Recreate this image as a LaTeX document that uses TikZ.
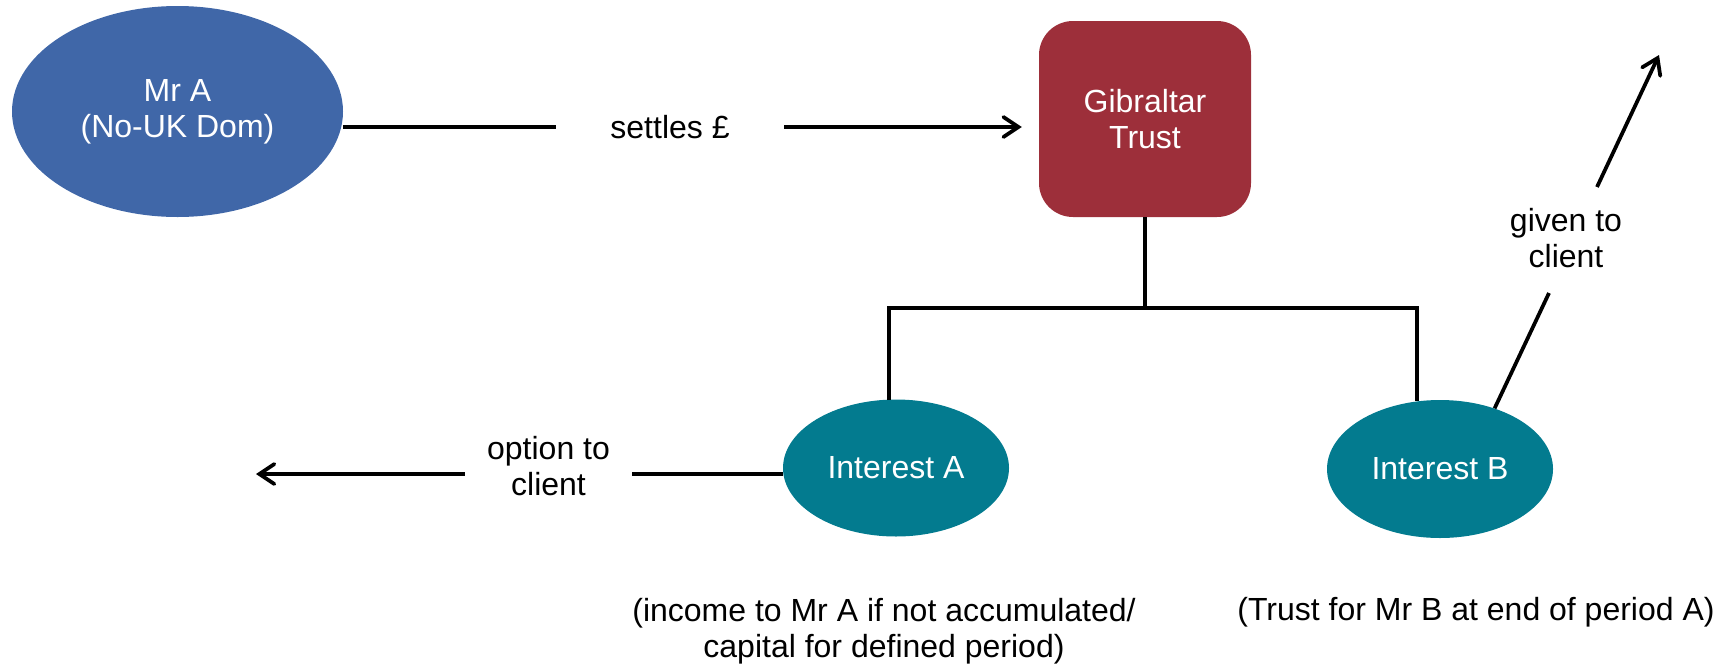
\documentclass[tikz,border=0pt]{standalone}
\usepackage{fontspec}
\setmainfont{Liberation Sans}
\usetikzlibrary{shapes.geometric,arrows.meta}
\definecolor{mrblue}{HTML}{4067A8}
\definecolor{trustred}{HTML}{9D2F3A}
\definecolor{teal}{HTML}{037B8F}
\begin{document}
\begin{tikzpicture}[x=1pt,y=-1pt,
  every node/.style={font=\fontsize{32}{36}\selectfont, align=center, inner sep=0pt},
  oval/.style={ellipse, text=white},
  trustbox/.style={rectangle, rounded corners=34pt, fill=trustred, text=white,
     minimum width=212pt, minimum height=196pt},
  gaplabel/.style={text=black},
  conn/.style={line width=3.75pt, black},
  arr/.style={conn, -{Straight Barb[length=15pt,width=20pt,line width=3.75pt,line cap=round]}}
]
\path[use as bounding box] (0,0) rectangle (1734,670);

% nodes
\node[oval, fill=mrblue, minimum width=331pt, minimum height=211pt] (mra) at (177.5,111.5) {Mr A\\(No-UK Dom)};
\node[trustbox] (trust) at (1145,119) {Gibraltar\\Trust};
\node[oval, fill=teal, minimum width=226pt, minimum height=137pt] (ia) at (896,468) {Interest A};
\node[oval, fill=teal, minimum width=226pt, minimum height=138pt] (ib) at (1440,469) {Interest B};

% labels
\node[gaplabel, minimum width=228pt] (settles) at (670,127) {settles £};
\node[gaplabel, minimum width=167pt] (opt) at (548.5,466) {option to\\client};
\node[gaplabel] (given) at (1566,238) {given to\\client};
\node[gaplabel] (noteA) at (884,631) {(income to Mr A if not accumulated/\\capital for defined period)};
\node[gaplabel] (noteB) at (1476,612) {(Trust for Mr B at end of period A)};

% helper coordinates
\coordinate (bar) at (0,308);
\coordinate (oy) at (0,474);
\coordinate (ja) at (889,400);
\coordinate (jb) at (1417,401);
\coordinate (otip) at (256,474);
\coordinate (g1) at (1549,293);
\coordinate (g2) at (1597,187);
\coordinate (g3) at (1659,55);

% connectors
\draw[conn] (mra.east |- settles) -- (settles.west);
\draw[arr, shorten >=17pt] (settles.east) -- (trust.west |- settles);
\draw[conn] (trust.south) -- (trust.south |- bar);
\draw[conn] (ja) -- (ja |- bar) -- (jb |- bar) -- (jb);
\draw[conn] (ia.west |- oy) -- (opt.east |- oy);
\draw[arr] (opt.west |- oy) -- (otip);
\draw[conn] (ib.48) -- (g1);
\draw[arr] (g2) -- (g3);
\end{tikzpicture}
\end{document}
